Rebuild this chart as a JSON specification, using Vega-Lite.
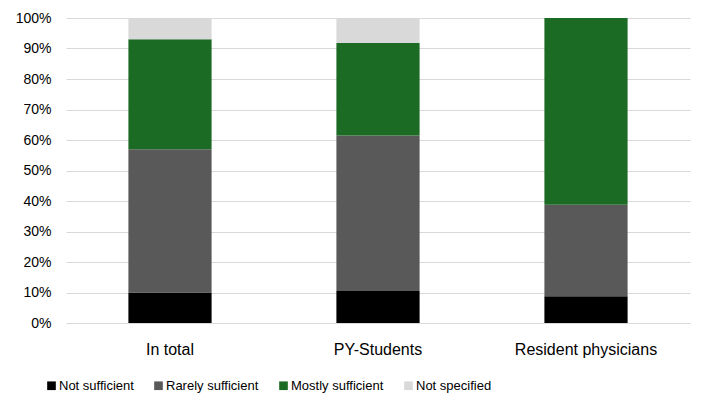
{
  "$schema": "https://vega.github.io/schema/vega-lite/v6.json",
  "width": 624,
  "height": 305,
  "autosize": "none",
  "padding": {"left": 66, "top": 18, "right": 18, "bottom": 90},
  "background": "white",
  "data": {
    "values": [
      {"group": "In total", "category": "Not sufficient", "order": 1, "value": 10},
      {"group": "In total", "category": "Rarely sufficient", "order": 2, "value": 47},
      {"group": "In total", "category": "Mostly sufficient", "order": 3, "value": 36},
      {"group": "In total", "category": "Not specified", "order": 4, "value": 7},
      {"group": "PY-Students", "category": "Not sufficient", "order": 1, "value": 10.5},
      {"group": "PY-Students", "category": "Rarely sufficient", "order": 2, "value": 51},
      {"group": "PY-Students", "category": "Mostly sufficient", "order": 3, "value": 30.3},
      {"group": "PY-Students", "category": "Not specified", "order": 4, "value": 8.2},
      {"group": "Resident physicians", "category": "Not sufficient", "order": 1, "value": 8.8},
      {"group": "Resident physicians", "category": "Rarely sufficient", "order": 2, "value": 30},
      {"group": "Resident physicians", "category": "Mostly sufficient", "order": 3, "value": 61.2},
      {"group": "Resident physicians", "category": "Not specified", "order": 4, "value": 0}
    ]
  },
  "mark": {"type": "bar"},
  "encoding": {
    "x": {
      "field": "group",
      "type": "nominal",
      "sort": null,
      "scale": {"paddingInner": 0.6, "paddingOuter": 0.3},
      "axis": {
        "title": null,
        "labelAngle": 0,
        "labelFontSize": 16,
        "labelColor": "#000000",
        "labelPadding": 18,
        "ticks": false,
        "domain": false,
        "labelFont": "Liberation Sans"
      }
    },
    "y": {
      "field": "value",
      "type": "quantitative",
      "stack": "zero",
      "scale": {"domain": [0, 100], "nice": false},
      "axis": {
        "title": null,
        "values": [0, 10, 20, 30, 40, 50, 60, 70, 80, 90, 100],
        "labelExpr": "datum.value + '%'",
        "labelFontSize": 14,
        "labelColor": "#000000",
        "labelFont": "Liberation Sans",
        "labelPadding": 15,
        "ticks": false,
        "domain": false,
        "grid": true,
        "gridColor": "#d9d9d9",
        "gridWidth": 1
      }
    },
    "color": {
      "field": "category",
      "type": "nominal",
      "sort": ["Not sufficient", "Rarely sufficient", "Mostly sufficient", "Not specified"],
      "scale": {
        "domain": ["Not sufficient", "Rarely sufficient", "Mostly sufficient", "Not specified"],
        "range": ["#000000", "#595959", "#1b6b24", "#d9d9d9"]
      },
      "legend": {
        "title": null,
        "orient": "none",
        "legendX": -21,
        "legendY": 361,
        "direction": "horizontal",
        "symbolType": "square",
        "symbolSize": 75,
        "symbolStrokeWidth": 0,
        "labelFontSize": 13,
        "labelFont": "Liberation Sans",
        "labelColor": "#000000",
        "columnPadding": 18,
        "labelOffset": 1
      }
    },
    "order": {"field": "order", "type": "quantitative"}
  },
  "config": {
    "view": {"stroke": null}
  }
}
